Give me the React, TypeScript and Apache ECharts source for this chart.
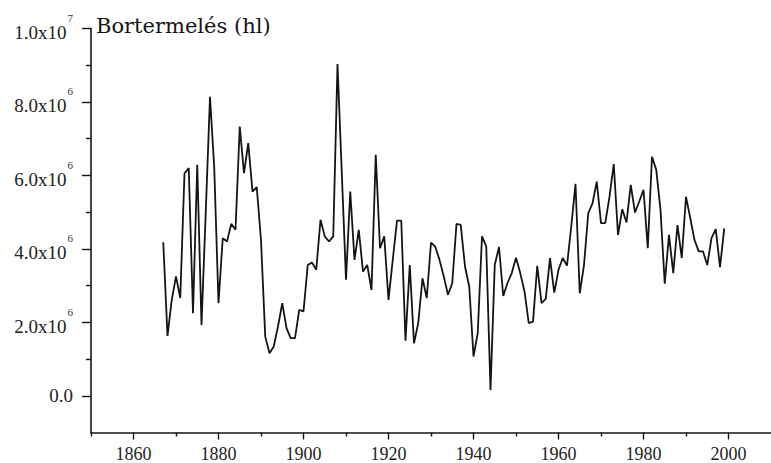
import React, { useEffect, useRef } from "react";
import * as echarts from "echarts";

// Wine production (millions of hl)
const prod1860s = [4.18, 1.63, 2.61]; // 1867-1869
const prod1870s = [3.25, 2.66, 6.06, 6.2, 2.25, 6.29, 1.93, 5.0, 8.14, 6.2];
const prod1880s = [2.52, 4.29, 4.2, 4.68, 4.52, 7.33, 6.06, 6.88, 5.56, 5.68];
const prod1890s = [4.24, 1.61, 1.16, 1.34, 1.89, 2.52, 1.84, 1.57, 1.57, 2.34];
const prod1900s = [2.3, 3.56, 3.63, 3.43, 4.79, 4.34, 4.2, 4.34, 9.03, 6.1];
const prod1910s = [3.16, 5.56, 3.7, 4.52, 3.38, 3.56, 2.88, 6.56, 4.02, 4.34];
const prod1920s = [2.61, 3.7, 4.77, 4.77, 1.5, 3.56, 1.43, 1.98, 3.2, 2.66];
const prod1930s = [4.17, 4.06, 3.7, 3.25, 2.75, 3.07, 4.68, 4.65, 3.52, 2.97];
const prod1940s = [1.07, 1.71, 4.34, 4.06, 0.16, 3.56, 4.05, 2.72, 3.07, 3.34];
const prod1950s = [3.76, 3.34, 2.84, 1.98, 2.02, 3.54, 2.52, 2.64, 3.75, 2.81];
const prod1960s = [3.43, 3.75, 3.54, 4.61, 5.77, 2.79, 3.56, 4.97, 5.24, 5.83];
const prod1970s = [4.7, 4.7, 5.42, 6.31, 4.38, 5.08, 4.72, 5.74, 4.99, 5.29];
const prod1980s = [5.61, 4.02, 6.51, 6.15, 5.06, 3.05, 4.38, 3.34, 4.65, 3.75];
const prod1990s = [5.42, 4.84, 4.24, 3.93, 3.93, 3.56, 4.29, 4.54, 3.5, 4.56];

const decadeStarts = [1867, 1870, 1880, 1890, 1900, 1910, 1920, 1930, 1940, 1950, 1960, 1970, 1980, 1990];
const decadeValues = [
  prod1860s, prod1870s, prod1880s, prod1890s, prod1900s, prod1910s, prod1920s,
  prod1930s, prod1940s, prod1950s, prod1960s, prod1970s, prod1980s, prod1990s,
];

const xLabelYears = [1860, 1880, 1900, 1920, 1940, 1960, 1980, 2000];
const xMinorYears = [1850, 1870, 1890, 1910, 1930, 1950, 1970, 1990];
const yLabelValues = [0, 2, 4, 6, 8, 10];
const yLabelTexts = ["0.0", "2.0x10", "4.0x10", "6.0x10", "8.0x10", "1.0x10"];
const yLabelExponents = ["", "6", "6", "6", "6", "7"];
const yMinorValues = [1, 3, 5, 7, 9];
const titleText = "Bortermelés (hl)";

const INK = "#141414";
const SERIF = "Liberation Serif";

export default function App() {
  const ref = useRef<HTMLDivElement>(null);

  useEffect(() => {
    if (!ref.current) return;
    const chart = echarts.init(ref.current, undefined, { renderer: "svg" });

    const data: [number, number][] = [];
    decadeStarts.forEach((start, d) => {
      decadeValues[d].forEach((v, i) => data.push([start + i, v]));
    });

    const axisLine = { show: true, onZero: false, lineStyle: { color: INK, width: 1.6 } };

    chart.setOption({
      animation: false,
      backgroundColor: "#ffffff",
      title: {
        text: titleText,
        left: 96,
        top: 15,
        padding: 0,
        textStyle: { fontFamily: "DejaVu Serif", fontSize: 21, fontWeight: "normal", color: INK },
      },
      grid: { left: 91, top: 28.5, width: 682, height: 404 },
      xAxis: [
        {
          type: "value",
          min: 1850,
          max: 2010,
          position: "bottom",
          axisLine,
          axisTick: { show: true, customValues: xLabelYears, length: 7, lineStyle: { color: INK, width: 1.4 } },
          axisLabel: {
            customValues: xLabelYears,
            margin: 12,
            fontSize: 18,
            fontFamily: SERIF,
            color: "#222",
            formatter: (v: number) => String(Math.round(v)),
          },
          splitLine: { show: false },
        },
        {
          type: "value",
          min: 1850,
          max: 2010,
          position: "bottom",
          axisLine: { show: false, onZero: false },
          axisTick: { show: true, customValues: xMinorYears, length: 4, lineStyle: { color: INK, width: 1.4 } },
          axisLabel: { show: false },
          splitLine: { show: false },
        },
      ],
      yAxis: [
        {
          type: "value",
          min: -1,
          max: 10,
          position: "left",
          axisLine,
          axisTick: { show: true, customValues: yLabelValues, length: 9, lineStyle: { color: INK, width: 1.4 } },
          axisLabel: {
            customValues: yLabelValues,
            margin: 18,
            color: "#222",
            formatter: (v: number) => {
              const i = yLabelValues.indexOf(Math.round(v));
              if (i < 0) return "";
              return yLabelExponents[i]
                ? `{a|${yLabelTexts[i]}}{s|${yLabelExponents[i]}}`
                : `{z|${yLabelTexts[i]}}`;
            },
            rich: {
              a: { fontSize: 19, fontFamily: SERIF, color: "#222", padding: [8, 0, 0, 0] },
              z: { fontSize: 19, fontFamily: SERIF, color: "#222" },
              s: { fontSize: 11, fontFamily: SERIF, color: "#333", padding: [0, 0, 21, 1] },
            },
          },
          splitLine: { show: false },
        },
        {
          type: "value",
          min: -1,
          max: 10,
          position: "left",
          axisLine: { show: false, onZero: false },
          axisTick: { show: true, customValues: yMinorValues, length: 5, lineStyle: { color: INK, width: 1.4 } },
          axisLabel: { show: false },
          splitLine: { show: false },
        },
      ],
      series: [
        {
          type: "line",
          xAxisIndex: 0,
          yAxisIndex: 0,
          data,
          symbol: "none",
          lineStyle: { color: INK, width: 1.8 },
        },
      ],
    });

    return () => chart.dispose();
  }, []);

  return (
    <div
      ref={ref}
      style={{ position: "fixed", left: 0, top: 0, width: 771, height: 463, background: "#fff" }}
    />
  );
}
